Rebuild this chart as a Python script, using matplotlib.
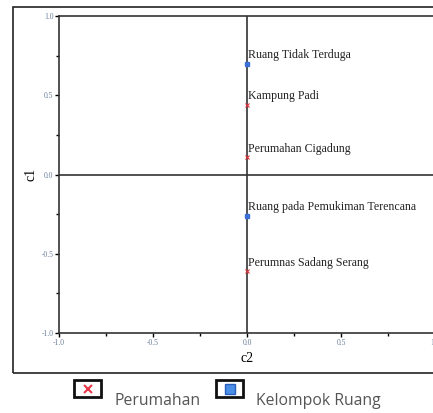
import matplotlib
matplotlib.use("Agg")
import matplotlib.pyplot as plt
from matplotlib.patches import Rectangle
from matplotlib.lines import Line2D
import numpy as np

# data
labels = ["Ruang Tidak Terduga", "Kampung Padi", "Perumahan Cigadung",
          "Ruang pada Pemukiman Terencana", "Perumnas Sadang Serang"]
c2 = [0.0, 0.0, 0.0, 0.0, 0.0]
c1 = [0.70, 0.44, 0.11, -0.26, -0.61]
groups = ["ruang", "perumahan", "perumahan", "ruang", "perumahan"]
ticks = [-1.0, -0.5, 0.0, 0.5, 1.0]
tick_labels = ["-1.0", "-0.5", "0.0", "0.5", "1.0"]

fig = plt.figure(figsize=(4.33, 4.13), dpi=100)
ax = fig.add_axes([59 / 433, 80 / 413, 376 / 433, 317 / 413])

ax.axhline(0, color="#333333", lw=1.2, zorder=1)
ax.axvline(0, color="#333333", lw=1.2, zorder=1)

for x, y, g, lab in zip(c2, c1, groups, labels):
    if g == "ruang":
        ax.plot(x, y, "s", ms=2.2, color="#3b6fd6", zorder=3)
    else:
        ax.plot(x, y, "x", ms=3, mew=0.8, color="#e0303a", zorder=3)
    ax.text(x + 0.003, y + 0.015, lab, fontsize=8.6, family="Liberation Serif",
            va="bottom", ha="left", color="#222222")

ax.set_xlim(-1, 1)
ax.set_ylim(-1, 1)
ax.set_xticks(ticks)
ax.set_xticklabels(tick_labels)
ax.set_yticks(ticks)
ax.set_yticklabels(tick_labels)
ax.set_xticks([-0.75, -0.25, 0.25, 0.75], minor=True)
ax.set_yticks([-0.75, -0.25, 0.25, 0.75], minor=True)
ax.tick_params(labelsize=5.5, labelcolor="#6a7f99", length=3, width=1, pad=1)
ax.tick_params(which="minor", length=2, width=1)
for lbl in ax.get_xticklabels() + ax.get_yticklabels():
    lbl.set_family("Liberation Serif")
for s in ax.spines.values():
    s.set_linewidth(1.2)
    s.set_color("#333333")

ax.set_xlabel("c2", fontsize=10, family="Liberation Serif", labelpad=4)
ax.set_ylabel("c1", fontsize=10, family="Liberation Serif", labelpad=3)

# outer frame
fig.patches.append(Rectangle((13 / 433, 40 / 413), 1.0, 366 / 413,
                             transform=fig.transFigure, fill=False,
                             lw=1.2, ec="#222222", clip_on=False))

# legend at the bottom
fig.patches.append(Rectangle((74 / 433, 16 / 413), 27 / 433, 17 / 413,
                             transform=fig.transFigure, fill=False,
                             lw=2, ec="#111111"))
fig.lines.append(Line2D([87.5 / 433], [24.5 / 413], marker="x", ms=6, mew=1.5,
                        color="#e8384a", transform=fig.transFigure))
fig.text(114 / 433, 4 / 413, "Perumahan", fontsize=11.3, family="Open Sans",
         color="#555555", va="bottom")
fig.patches.append(Rectangle((216 / 433, 16 / 413), 27 / 433, 17 / 413,
                             transform=fig.transFigure, fill=False,
                             lw=2, ec="#111111"))
fig.lines.append(Line2D([229.5 / 433], [24.5 / 413], marker="s", ms=7,
                        mfc="#4a90e8", mec="#2a5fc0", mew=1,
                        transform=fig.transFigure))
fig.text(256 / 433, 4 / 413, "Kelompok Ruang", fontsize=11.3, family="Open Sans",
         color="#555555", va="bottom")

fig.savefig("out.png", dpi=100)
